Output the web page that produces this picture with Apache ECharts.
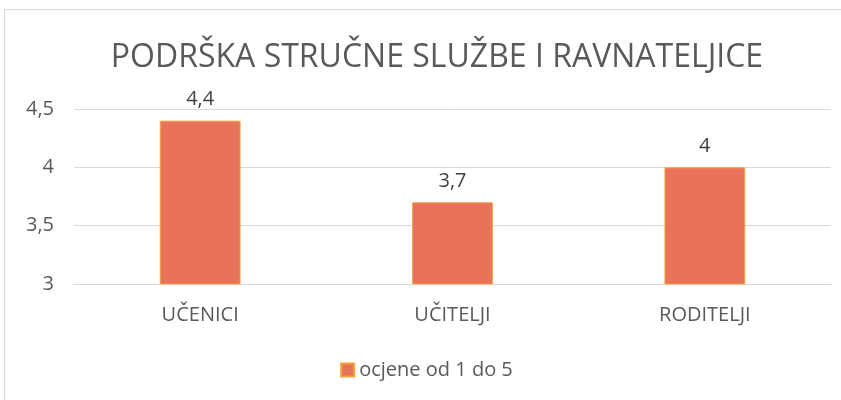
<!DOCTYPE html>
<html>
<head>
<meta charset="utf-8">
<script src="https://cdn.jsdelivr.net/npm/echarts@6/dist/echarts.min.js"></script>
<style>
  html, body { margin: 0; padding: 0; background: #fff; }
  #chart { position: absolute; left: 4px; top: 9px; width: 845px; height: 400px;
    border: 1px solid #d9d9d9; box-sizing: border-box; }
</style>
</head>
<body>
<div id="chart"></div>
<script>
// podaci
const categories = ['UČENICI', 'UČITELJI', 'RODITELJI'];
const ocjene = [4.4, 3.7, 4];
const seriesName = 'ocjene od 1 do 5';
const titleText = 'PODRŠKA STRUČNE SLUŽBE I RAVNATELJICE';

const fmt = v => String(v).replace('.', ',');
const font = "'Open Sans', 'Liberation Sans', sans-serif";

let myChart = echarts.init(document.getElementById('chart'));
let option = {
  animation: false,
  textStyle: { fontFamily: font },
  title: {
    text: titleText,
    left: 427,
    textAlign: 'center',
    top: 27,
    textStyle: { color: '#595959', fontSize: 32, fontWeight: 'normal', fontFamily: font }
  },
  grid: { left: 69, right: 17, top: 99, height: 175 },
  legend: {
    data: [seriesName],
    top: 345,
    left: 'center',
    itemWidth: 13,
    itemHeight: 13,
    itemGap: 4,
    icon: 'rect',
    textStyle: { color: '#595959', fontSize: 20, fontFamily: font }
  },
  xAxis: {
    type: 'category',
    data: categories,
    axisLine: { lineStyle: { color: '#d9d9d9', width: 1 } },
    axisTick: { show: false },
    axisLabel: { color: '#595959', fontSize: 20, margin: 21, fontFamily: font }
  },
  yAxis: {
    type: 'value',
    min: 3,
    max: 4.5,
    interval: 0.5,
    axisLine: { show: false },
    axisTick: { show: false },
    axisLabel: { color: '#595959', fontSize: 20, margin: 20, fontFamily: font, formatter: fmt },
    splitLine: { lineStyle: { color: '#d9d9d9', width: 1 } }
  },
  series: [{
    name: seriesName,
    type: 'bar',
    data: ocjene,
    barWidth: '32%',
    itemStyle: { color: '#E8735A', borderColor: '#F2A23A', borderWidth: 1 },
    label: {
      show: true,
      position: 'top',
      distance: 11,
      color: '#404040',
      fontSize: 20,
      fontFamily: font,
      formatter: p => fmt(p.value)
    }
  }]
};
myChart.setOption(option);
</script>
</body>
</html>
